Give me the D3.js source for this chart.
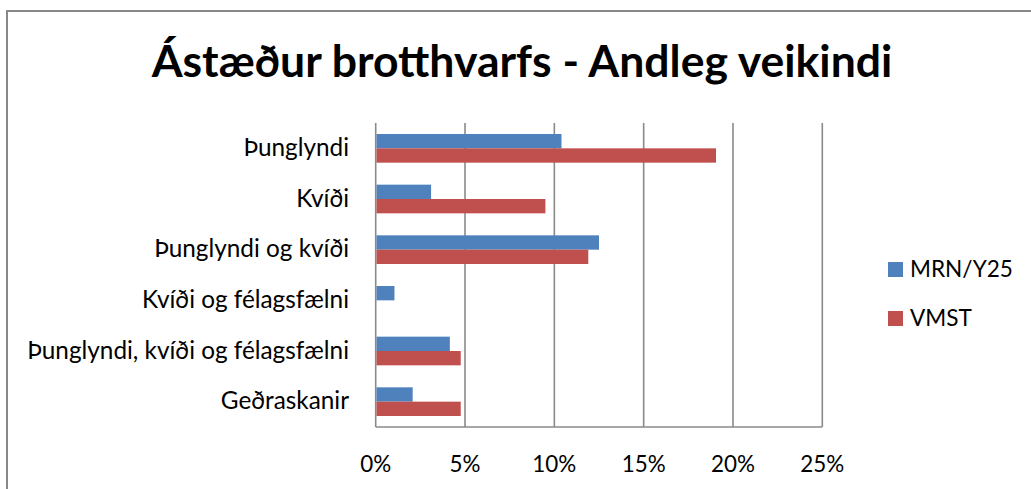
<!DOCTYPE html>
<html><head><meta charset="utf-8">
<script src="https://cdn.jsdelivr.net/npm/d3@7"></script>
<style>body{margin:0;background:#fff}svg{display:block}text{font-family:Lato,"Open Sans",sans-serif;fill:#000}</style>
</head><body>
<svg id="c" width="1031" height="489"></svg>
<script>
const title = "Ástæður brotthvarfs - Andleg veikindi";
const categories = ["Þunglyndi","Kvíði","Þunglyndi og kvíði","Kvíði og félagsfælni","Þunglyndi, kvíði og félagsfælni","Geðraskanir"];
const seriesNames = ["MRN/Y25","VMST"];
const mrn  = [0.104, 0.031, 0.125, 0.0105, 0.0415, 0.0207];
const vmst = [0.1905, 0.095, 0.119, 0, 0.0476, 0.0476];
const xTicks = [0, 0.05, 0.10, 0.15, 0.20, 0.25];
const colors = ["#4F81BD","#C0504D"];

const svg = d3.select("#c");
// chart frame
svg.append("rect").attr("x",7).attr("y",11).attr("width",1040).attr("height",500)
  .attr("fill","#fff").attr("stroke","#888").attr("stroke-width",2);

const x = d3.scaleLinear().domain([0,0.25]).range([375.7,822.3]);
const y0 = d3.scaleBand().domain(categories).range([123,427]).paddingInner(0.434).paddingOuter(0.217);
const y1 = d3.scaleBand().domain(seriesNames).range([0,y0.bandwidth()]);
const data = categories.map((c,i)=>({c, vals:[mrn[i], vmst[i]]}));

// gridlines
svg.append("g").selectAll("line").data(xTicks).join("line")
  .attr("x1",d=>x(d)).attr("x2",d=>x(d)).attr("y1",123).attr("y2",427)
  .attr("stroke","#8a8a8a").attr("stroke-width",1.6);
svg.append("line").attr("x1",x(0)).attr("x2",x(0.25)).attr("y1",427).attr("y2",427)
  .attr("stroke","#8a8a8a").attr("stroke-width",1.6);

// bars
const g = svg.append("g");
data.forEach(d=>{
  g.selectAll(null).data(d.vals).join("rect")
    .attr("x",x(0)+0.8).attr("y",(v,j)=>y0(d.c)+y1(seriesNames[j]))
    .attr("width",v=>Math.max(0,x(v)-x(0)-0.8)).attr("height",y1.bandwidth())
    .attr("fill",(v,j)=>colors[j]);
});

function fit(sel, targetW){
  const w = sel.node().getComputedTextLength();
  const fs = parseFloat(sel.attr("font-size"));
  sel.attr("font-size", fs*targetW/w);
}

// title
const t = svg.append("text").attr("x",522).attr("y",77).attr("text-anchor","middle")
  .attr("font-weight","bold").attr("font-size",40).text(title);
fit(t,741);

// category labels
const labs = svg.append("g").selectAll("text").data(categories).join("text")
  .attr("x",349).attr("y",d=>y0(d)+y0.bandwidth()/2+7.7).attr("text-anchor","end")
  .attr("font-size",21).text(d=>d);
const longest = labs.filter((d,i)=>i===4);
const w0 = longest.node().getComputedTextLength();
labs.attr("font-size",21*322/w0);

// x tick labels
const tl = svg.append("g").selectAll("text").data(xTicks).join("text")
  .attr("x",d=>x(d)).attr("y",472).attr("text-anchor","middle").attr("font-size",21)
  .text(d=>d3.format(".0%")(d));
const w1 = tl.filter((d,i)=>i===2).node().getComputedTextLength();
tl.attr("font-size",21*44/w1);

// legend
const lg = svg.append("g");
const ly = [262, 311];
seriesNames.forEach((s,i)=>{
  lg.append("rect").attr("x",888).attr("y",ly[i]).attr("width",15).attr("height",15).attr("fill",colors[i]);
});
const lt = lg.selectAll("text").data(seriesNames).join("text")
  .attr("x",910).attr("y",(d,i)=>ly[i]+15.3).attr("font-size",19).text(d=>d);
const w2 = lt.filter((d,i)=>i===0).node().getComputedTextLength();
lt.attr("font-size",19*103/w2);
</script>
</body></html>
